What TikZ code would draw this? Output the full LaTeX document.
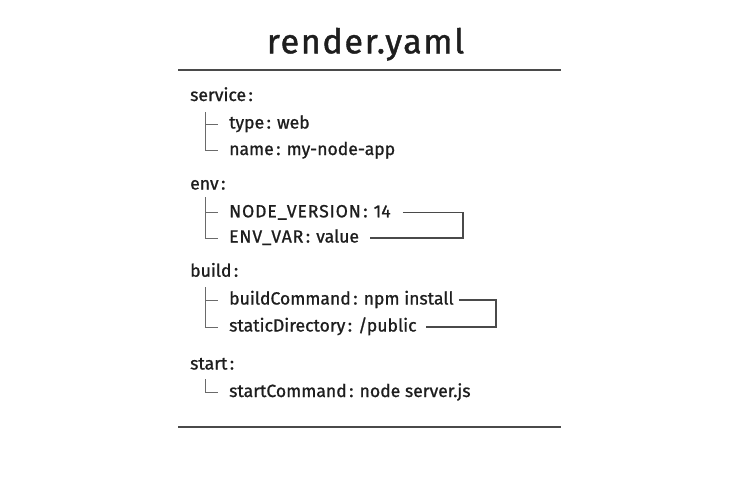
\documentclass[tikz,border=0pt]{standalone}
\usepackage{fontspec}
\setmainfont{Fira Sans}[FakeBold=1]
\newfontfamily\titlefont{Fira Sans}[FakeBold=1.2,LetterSpace=5]
\newcommand\kc{\kern2.5pt:\kern1.5pt}
\newcommand\capsw[1]{{\addfontfeature{LetterSpace=5}#1}}
\definecolor{ink}{HTML}{1E1E1E}
\definecolor{rulec}{HTML}{4A4A4A}
\definecolor{treec}{HTML}{6A6A6A}
\begin{document}
\begin{tikzpicture}[x=1pt,y=-1pt,
  key/.style={anchor=base west,inner sep=0pt,text=ink,font=\fontsize{17.6}{20}\selectfont,text height=12pt,text depth=3pt},
  title/.style={anchor=base,inner sep=0pt,text=ink,font=\titlefont\fontsize{34}{38}\selectfont},
  hrule/.style={draw=rulec,line width=1.3pt},
  tree/.style={draw=treec,line width=0.9pt},
  link/.style={draw=rulec,line width=1.1pt}]
\useasboundingbox (0,0) rectangle (743,495);
\fill[white] (0,0) rectangle (743,495);
\node[title] (t) at (365.5,53.3) {render.yaml};
\coordinate (r1a) at (178,70); \coordinate (r1b) at (561,70);
\coordinate (r2a) at (178,427); \coordinate (r2b) at (561,427);
\draw[hrule] (r1a) -- (r1b);
\draw[hrule] (r2a) -- (r2b);
% sections
\node[key] (service) at (190,101) {service\kc};
\node[key] (type) at (229,128.5) {type\kc\ web};
\node[key] (name) at (229,155) {name\kc\ my-node-app};
\node[key] (env) at (190,189.5) {env\kc};
\node[key] (nv) at (229,217.3) {\capsw{NODE\_VERSION}\kc\ 14};
\node[key] (ev) at (229,242.5) {\capsw{ENV\_VAR}\kc\ value};
\node[key] (build) at (190,276.7) {build\kc};
\node[key] (bc) at (229,304.5) {buildCommand\kc\ npm install};
\node[key] (sd) at (229,331.5) {staticDirectory\kc\ /public};
\node[key] (start) at (190,369.5) {start\kc};
\node[key] (sc) at (229,397) {startCommand\kc\ node server.js};
% tree lines
\draw[tree] (205.7,112) |- ([xshift=-11pt]name.west);
\draw[tree] (205.7,0 |- type.west) -- ([xshift=-11pt]type.west);
\draw[tree] (205.7,197) |- ([xshift=-11pt]ev.west);
\draw[tree] (205.7,0 |- nv.west) -- ([xshift=-11pt]nv.west);
\draw[tree] (205.7,287) |- ([xshift=-11pt]sd.west);
\draw[tree] (205.7,0 |- bc.west) -- ([xshift=-11pt]bc.west);
\draw[tree] (205.7,379) |- ([xshift=-11pt]sc.west);
% brackets
\coordinate (envb) at (463,0);
\coordinate (buildb) at (496,0);
\draw[link] ([xshift=12pt]nv.east) -- (envb |- nv.east) -- (envb |- ev.east) -- ([xshift=11pt]ev.east);
\draw[link] ([xshift=5pt]bc.east) -- (buildb |- bc.east) -- (buildb |- sd.east) -- ([xshift=9pt]sd.east);
\end{tikzpicture}
\end{document}
